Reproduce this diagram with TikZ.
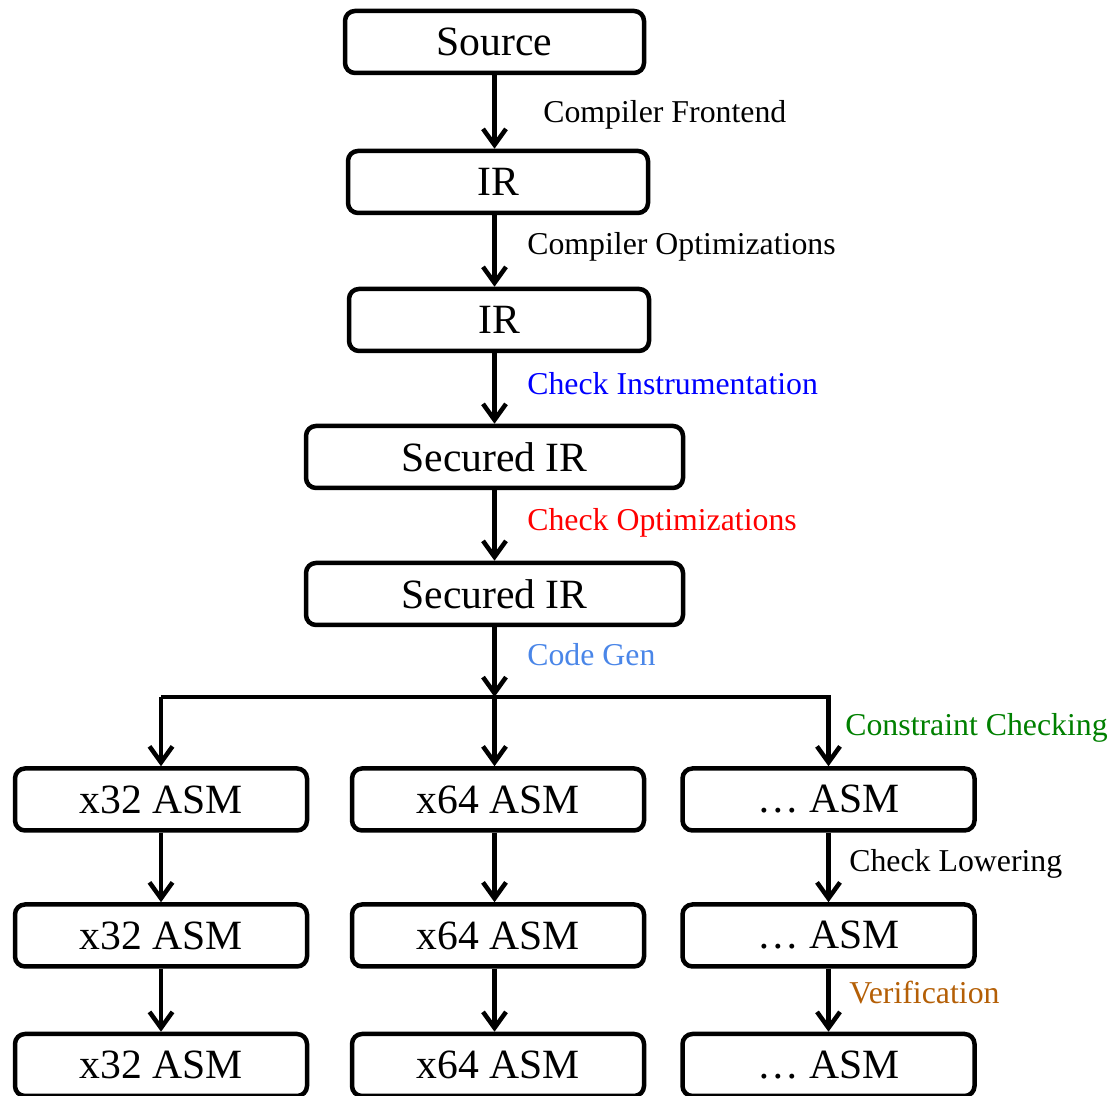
\documentclass[tikz,border=0pt]{standalone}
\usepackage{fontspec}
\setmainfont{Liberation Serif}
\usetikzlibrary{arrows.meta,positioning}
\definecolor{GenBlue}{RGB}{74,134,232}
\definecolor{CheckGreen}{RGB}{0,128,0}
\definecolor{VerBrown}{RGB}{180,95,6}

\begin{document}
\begin{tikzpicture}[
  blk/.style={draw,line width=0.09cm,rounded corners=0.2cm,minimum height=1.24cm,
              minimum width=5.84cm,inner sep=0pt,font=\fontsize{23.7}{28}\selectfont},
  arr/.style={-{Straight Barb[length=0.32cm,width=0.46cm]},line width=0.09cm},
  lbl/.style={anchor=west,inner sep=0pt,font=\fontsize{18.1}{22}\selectfont},
]
\useasboundingbox (0,0) rectangle (22.26,21.92);
% main chain
\node[blk,minimum width=5.98cm] (src) at (9.89,21.08) {Source};
\node[blk,minimum width=6.0cm] (ir1) at (9.96,18.28) {IR};
\node[blk,minimum width=6.0cm] (ir2) at (9.98,15.52) {IR};
\node[blk,minimum width=7.54cm] (sec1) at (9.89,12.78) {Secured IR};
\node[blk,minimum width=7.54cm] (sec2) at (9.89,10.04) {Secured IR};
\coordinate (split) at (9.89,7.98);
% back ends
\node[blk] (a1) at (3.22,5.93) {x32 ASM};
\node[blk] (b1) at (3.22,3.21) {x32 ASM};
\node[blk] (c1) at (3.22,0.62) {x32 ASM};
\node[blk] (a2) at (9.96,5.93) {x64 ASM};
\node[blk] (b2) at (9.96,3.21) {x64 ASM};
\node[blk] (c2) at (9.96,0.62) {x64 ASM};
\node[blk] (a3) at (16.57,5.93) {\dots{} ASM};
\node[blk] (b3) at (16.57,3.21) {\dots{} ASM};
\node[blk] (c3) at (16.57,0.62) {\dots{} ASM};
\draw[arr] (src) -- (src |- ir1.north);
\draw[arr] (src |- ir1.south) -- (src |- ir2.north);
\draw[arr] (src |- ir2.south) -- (sec1);
\draw[arr] (sec1) -- (sec2);
\draw[arr] (sec2) -- (split);
\draw[arr] (split -| a1) -- (split -| a3) -- (a3);
\draw[arr] (split -| a1) -- (a1);
\draw[arr] (split) -- (split |- a2.north);
\draw[arr] (a1) -- (b1);
\draw[arr] (b1) -- (c1);
\draw[arr] (split |- a2.south) -- (split |- b2.north);
\draw[arr] (split |- b2.south) -- (split |- c2.north);
\draw[arr] (a3) -- (b3);
\draw[arr] (b3) -- (c3);
% pass labels
\node[lbl] (fe) at (10.86,19.62) {Compiler Frontend};
\node[lbl] (opt) at (10.54,16.98) {Compiler Optimizations};
\node[lbl,text=blue] (ins) at (10.54,14.24) {Check Instrumentation};
\node[lbl,text=red] (chk) at (10.54,11.46) {Check Optimizations};
\node[lbl,text=GenBlue] (gen) at (10.54,8.82) {Code Gen};
\node[lbl,text=CheckGreen] (cons) at (16.90,7.36) {Constraint Checking};
\node[lbl] (low) at (16.98,4.64) {Check Lowering};
\node[lbl,text=VerBrown] (ver) at (16.98,2.06) {Verification};
\end{tikzpicture}
\end{document}
